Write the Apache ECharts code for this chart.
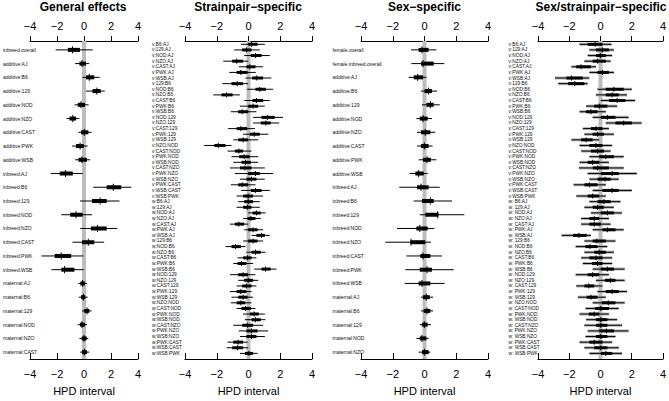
<!DOCTYPE html>
<html><head><meta charset="utf-8">
<script src="https://cdn.jsdelivr.net/npm/echarts@6/dist/echarts.min.js"></script>
<style>html,body{margin:0;padding:0;background:#fff}#c{width:669px;height:401px}</style>
</head><body><div id="c"></div>
<script>
const FONT = 'Liberation Sans, Arial, Helvetica, sans-serif';
const tickValues = [-4, -2, 0, 2, 4];
const panelTitles = ['General effects', 'Strainpair\u2212specific', 'Sex\u2212specific', 'Sex/strainpair\u2212specific'];
const axisTitle = 'HPD interval';

// ---- Panel 1: General effects
const genLabels = ['inbreed.overall','additive:AJ','additive:B6','additive:129','additive:NOD','additive:NZO','additive:CAST','additive:PWK','additive:WSB','inbreed:AJ','inbreed:B6','inbreed:129','inbreed:NOD','inbreed:NZO','inbreed:CAST','inbreed:PWK','inbreed:WSB','maternal:AJ','maternal:B6','maternal:129','maternal:NOD','maternal:NZO','maternal:CAST'];
const genLo95 = [-2.10,-0.66,-0.10,0.15,-0.70,-1.29,-0.41,-0.88,-0.66,-2.46,0.68,-0.29,-1.68,-0.27,-0.85,-3.15,-2.41,-0.41,-0.39,-0.15,-0.46,-0.34,-0.29];
const genLo50 = [-1.20,-0.34,0.15,0.63,-0.46,-1.07,-0.22,-0.59,-0.41,-1.80,1.68,0.59,-1.02,0.51,-0.15,-2.17,-1.68,-0.27,-0.22,0.02,-0.29,-0.17,-0.15];
const genMed  = [-0.85,-0.15,0.39,0.95,-0.22,-0.83,0.02,-0.29,-0.15,-1.37,2.17,1.20,-0.59,1.00,0.32,-1.68,-1.44,-0.10,-0.05,0.22,-0.15,0.00,0.02];
const genHi50 = [-0.30,0.15,0.76,1.24,0.07,-0.59,0.32,-0.02,0.22,-0.83,2.76,1.68,-0.10,1.68,0.76,-0.95,-0.71,0.07,0.10,0.39,0.07,0.20,0.22];
const genHi95 = [0.65,0.39,1.17,1.54,0.34,-0.34,0.56,0.27,0.46,-0.10,3.51,2.63,0.59,2.46,1.49,-0.05,-0.02,0.22,0.27,0.56,0.22,0.32,0.39];

// ---- Panel 2: Strainpair-specific
const pairLabels = ['v:B6:AJ','v:129:AJ','v:NOD:AJ','v:NZO:AJ','v:CAST:AJ','v:PWK:AJ','v:WSB:AJ','v:129:B6','v:NOD:B6','v:NZO:B6','v:CAST:B6','v:PWK:B6','v:WSB:B6','v:NOD:129','v:NZO:129','v:CAST:129','v:PWK:129','v:WSB:129','v:NZO:NOD','v:CAST:NOD','v:PWK:NOD','v:WSB:NOD','v:CAST:NZO','v:PWK:NZO','v:WSB:NZO','v:PWK:CAST','v:WSB:CAST','v:WSB:PWK',
 'w:B6:AJ','w:129:AJ','w:NOD:AJ','w:NZO:AJ','w:CAST:AJ','w:PWK:AJ','w:WSB:AJ','w:129:B6','w:NOD:B6','w:NZO:B6','w:CAST:B6','w:PWK:B6','w:WSB:B6','w:NOD:129','w:NZO:129','w:CAST:129','w:PWK:129','w:WSB:129','w:NZO:NOD','w:CAST:NOD','w:PWK:NOD','w:WSB:NOD','w:CAST:NZO','w:PWK:NZO','w:WSB:NZO','w:PWK:CAST','w:WSB:CAST','w:WSB:PWK'];
const pairLo95 = [-0.48,-0.90,-0.27,-1.59,-0.61,-1.21,-0.19,-1.65,-0.08,-2.22,-0.27,-0.54,-1.11,0.29,0.29,-1.28,-0.34,-0.96,-2.79,-1.32,-1.07,-0.96,-1.17,-0.86,-0.54,-1.11,-0.48,-0.75,
 -0.65,-0.75,-0.02,-0.34,-1.17,-0.27,0.19,-0.34,-1.45,-0.13,-0.69,-0.96,0.36,-1.17,-0.65,-0.75,-1.17,-1.07,-1.11,-0.75,-0.34,-0.23,-0.96,-0.61,-0.54,-1.32,-1.38,-0.54];
const pairLo50 = [-0.02,-0.40,0.15,-1.03,-0.13,-0.75,0.23,-1.07,0.44,-1.70,0.25,-0.02,-0.65,0.82,0.77,-0.75,0.08,-0.65,-2.16,-0.86,-0.59,-0.44,-0.54,-0.02,-0.13,-0.65,0.15,-0.34,
 -0.27,-0.34,0.25,-0.06,-0.86,-0.02,0.50,-0.02,-1.07,0.19,-0.34,-0.69,0.82,-0.65,-0.27,-0.40,-0.75,-0.65,-0.75,-0.44,0.08,0.19,-0.40,-0.13,-0.13,-0.96,-1.03,-0.23];
const pairMed  = [0.19,-0.13,0.44,-0.75,0.08,-0.48,0.52,-0.71,0.71,-1.38,0.50,0.29,-0.40,1.19,1.09,-0.48,0.36,-0.34,-1.90,-0.61,-0.27,-0.19,-0.23,0.44,0.19,-0.40,0.44,-0.02,
 -0.02,-0.06,0.50,0.15,-0.61,0.29,0.82,0.29,-0.82,0.44,-0.06,-0.44,1.07,-0.34,-0.02,-0.13,-0.48,-0.34,-0.48,-0.19,0.36,0.44,-0.06,0.19,0.19,-0.65,-0.69,0.02];
const pairHi50 = [0.57,0.19,0.82,-0.34,0.44,-0.06,0.92,-0.34,1.09,-1.00,0.92,0.61,-0.02,1.65,1.40,-0.08,0.71,-0.02,-1.45,-0.34,0.08,0.15,0.19,0.71,0.50,-0.02,0.82,0.29,
 0.29,0.19,0.77,0.44,-0.27,0.57,1.03,0.57,-0.48,0.77,0.19,-0.13,1.40,-0.02,0.29,0.19,-0.13,-0.06,-0.19,0.15,0.65,0.77,0.29,0.57,0.50,-0.34,-0.34,0.29];
const pairHi95 = [1.03,0.71,1.34,-0.02,0.92,0.46,1.44,-0.02,1.55,-0.54,1.34,1.03,0.50,2.18,1.93,0.40,1.24,0.61,-1.07,0.19,0.61,0.61,1.03,1.55,1.03,0.44,1.34,0.92,
 0.71,0.71,1.07,0.77,-0.02,0.92,1.34,0.92,-0.19,1.07,0.50,0.29,1.76,0.44,0.61,0.50,0.19,0.29,0.19,0.44,1.03,1.07,0.92,1.24,1.03,-0.06,-0.02,0.57];

// ---- Panel 3: Sex-specific
const sexLabels = ['female.overall','female.inbreed.overall','additive:AJ','additive:B6','additive:129','additive:NOD','additive:NZO','additive:CAST','additive:PWK','additive:WSB','inbreed:AJ','inbreed:B6','inbreed:129','inbreed:NOD','inbreed:NZO','inbreed:CAST','inbreed:PWK','inbreed:WSB','maternal:AJ','maternal:B6','maternal:129','maternal:NOD','maternal:NZO'];
const sexLo95 = [-0.85,-0.83,-1.00,-0.22,-0.16,-0.51,-0.47,-0.47,-0.37,-0.93,-1.59,-0.68,-0.30,-1.73,-2.47,-1.14,-1.21,-1.25,-0.22,-0.22,-0.30,-0.51,-0.37];
const sexLo50 = [-0.37,-0.22,-0.68,0.00,0.12,-0.30,-0.22,-0.22,-0.09,-0.58,-0.47,-0.16,0.05,-0.51,-0.89,-0.26,-0.30,-0.37,-0.09,-0.05,-0.16,-0.30,-0.16];
const sexMed  = [-0.16,-0.09,-0.43,0.26,0.37,-0.09,0.05,-0.01,0.16,-0.37,-0.22,0.37,0.83,-0.30,-0.85,-0.09,0.16,-0.16,0.12,0.16,-0.01,-0.16,-0.01];
const sexHi50 = [0.26,0.58,-0.09,0.47,0.58,0.20,0.37,0.26,0.41,-0.05,0.26,0.58,0.89,0.20,0.05,0.37,0.47,0.37,0.33,0.37,0.20,0.12,0.26];
const sexHi95 = [0.75,1.25,0.12,0.79,0.96,0.47,0.68,0.51,0.75,0.20,0.96,1.73,2.51,0.62,0.41,1.10,1.84,1.27,0.54,0.54,0.41,0.26,0.37];

// ---- Panel 4: Sex/strainpair-specific
const sexPairLabels = ['v:B6:AJ','v:129:AJ','v:NOD:AJ','v:NZO:AJ','v:CAST:AJ','v:PWK:AJ','v:WSB:AJ','v:129:B6','v:NOD:B6','v:NZO:B6','v:CAST:B6','v:PWK:B6','v:WSB:B6','v:NOD:129','v:NZO:129','v:CAST:129','v:PWK:129','v:WSB:129','v:NZO:NOD','v:CAST:NOD','v:PWK:NOD','v:WSB:NOD','v:CAST:NZO','v:PWK:NZO','v:WSB:NZO','v:PWK:CAST','v:WSB:CAST','v:WSB:PWK',
 'w: B6:AJ','w: 129:AJ','w: NOD:AJ','w: NZO:AJ','w: CAST:AJ','w: PWK:AJ','w: WSB:AJ','w: 129:B6','w: NOD:B6','w: NZO:B6','w: CAST:B6','w: PWK:B6','w: WSB:B6','w: NOD:129','w: NZO:129','w: CAST:129','w: PWK:129','w: WSB:129','w: NZO:NOD','w: CAST:NOD','w: PWK:NOD','w: WSB:NOD','w: CAST:NZO','w: PWK:NZO','w: WSB:NZO','w: PWK:CAST','w: WSB:CAST','w: WSB:PWK'];
const sexPairLo95 = [-1.34,-0.71,-0.82,-1.03,-1.86,-0.71,-2.91,-2.70,-0.19,-0.29,0.02,-0.92,-1.34,-0.50,0.34,-1.13,-1.03,-1.86,-1.34,-1.24,-0.71,-1.34,-1.38,-0.82,-0.71,-1.72,-0.50,-1.55,
 -0.71,-1.03,-0.61,-1.24,-1.24,-0.50,-2.49,-1.03,-1.59,-1.03,-1.24,-1.13,-0.50,-1.59,-0.29,-1.55,-0.19,-1.45,-0.50,-0.96,-1.34,-0.92,-1.03,-0.82,-0.96,-1.34,-1.03,-0.71];
const sexPairLo50 = [-0.82,-0.29,-0.29,-0.50,-1.55,-0.19,-2.18,-2.07,0.34,0.34,0.54,-0.40,-0.92,0.02,0.96,-0.61,-0.50,-1.24,-0.71,-0.61,-0.08,-0.82,-0.50,0.02,-0.19,-1.03,0.13,-0.82,
 -0.19,-0.50,0.02,-0.71,-0.71,0.13,-1.76,-0.50,-0.96,-0.40,-0.71,-0.54,0.02,-0.82,0.29,-1.03,0.34,-0.88,0.08,-0.34,-0.75,-0.29,-0.29,-0.08,-0.29,-0.71,-0.40,0.02];
const sexPairMed  = [-0.34,0.13,0.00,-0.19,-1.24,0.13,-1.86,-1.65,0.86,0.75,1.07,-0.08,-0.61,0.44,1.49,-0.29,-0.19,-0.92,-0.29,-0.19,0.34,-0.50,-0.19,0.75,0.29,-0.71,0.75,-0.50,
 0.23,-0.19,0.44,-0.40,-0.40,0.44,-1.38,-0.23,-0.67,-0.08,-0.29,-0.19,0.44,-0.50,0.65,-0.75,0.75,-0.61,0.50,0.02,-0.40,0.02,0.02,0.38,0.02,-0.40,0.02,0.34];
const sexPairHi50 = [0.13,0.54,0.34,0.34,-0.61,0.54,-1.13,-1.03,1.49,1.17,1.59,0.44,-0.19,0.96,2.01,0.13,0.23,-0.50,0.13,0.23,0.86,-0.08,0.54,1.17,0.65,-0.19,1.17,-0.08,
 0.65,0.23,0.86,-0.08,0.02,0.96,-0.88,0.34,-0.19,0.34,0.13,0.13,0.86,-0.08,0.96,-0.40,1.17,-0.19,0.96,0.54,-0.08,0.44,0.44,0.86,0.44,0.13,0.44,0.75];
const sexPairHi95 = [0.71,0.86,0.75,0.65,-0.29,0.86,-0.71,-0.82,2.01,1.70,2.22,1.07,0.34,1.80,2.64,0.54,0.86,-0.08,0.75,0.65,1.49,0.54,1.49,2.32,1.17,0.34,2.01,0.34,
 1.28,0.86,1.38,0.54,0.65,1.49,-0.61,0.96,0.44,0.86,0.75,0.75,1.55,0.54,1.55,0.13,1.70,0.34,1.55,1.17,0.54,1.07,1.38,1.80,0.96,0.75,1.17,1.38];

// ---------- build
function rows(lo95, lo50, med, hi50, hi95) {
  return med.map((m, i) => [lo95[i], lo50[i], m, hi50[i], hi95[i], i]);
}
function intervalRender(barH, tickH, grayBand) {
  return function (params, api) {
    const i = api.value(5);
    const a = api.coord([api.value(0), i]);
    const b = api.coord([api.value(1), i]);
    const m = api.coord([api.value(2), i]);
    const c = api.coord([api.value(3), i]);
    const d = api.coord([api.value(4), i]);
    const kids = [];
    if (grayBand) {
      kids.push({ type: 'rect', shape: { x: a[0], y: a[1] - grayBand / 2, width: d[0] - a[0], height: grayBand }, style: { fill: '#b4b4b4' } });
    }
    kids.push(
      { type: 'line', shape: { x1: a[0], y1: a[1], x2: d[0], y2: d[1] }, style: { stroke: '#000', lineWidth: 1 } },
      { type: 'rect', shape: { x: b[0], y: b[1] - barH / 2, width: c[0] - b[0], height: barH }, style: { fill: '#000' } },
      { type: 'line', shape: { x1: m[0], y1: m[1] - tickH / 2, x2: m[0], y2: m[1] + tickH / 2 }, style: { stroke: '#000', lineWidth: 1 } }
    );
    return { type: 'group', children: kids };
  };
}
function zeroRender(offTop, offBot) {
  return function (params, api) {
    const cs = params.coordSys;
    const x = api.coord([api.value(0), 0])[0];
    return { type: 'line', shape: { x1: x, y1: cs.y - offTop, x2: x, y2: cs.y + cs.height + offBot },
      style: { stroke: '#bdbdbd', lineWidth: 4 } };
  };
}
const minus = v => String(v).replace('-', '\u2212');

const panels = [
  { labels: genLabels, data: rows(genLo95, genLo50, genMed, genHi50, genHi95), left: 28, right: 669 - 138, top: 43, bottom: 38, offTop: 2, offBot: 0, lm: 27, fs: 5, barH: 4, tickH: 7, gray: 0, cx: 83 },
  { labels: pairLabels, data: rows(pairLo95, pairLo50, pairMed, pairHi50, pairHi95), left: 185, right: 669 - 312, top: 41.5, bottom: 40.8, offTop: 0.5, offBot: 2.8, lm: 33, fs: 4.8, barH: 3, tickH: 5, gray: 0, cx: 248 },
  { labels: sexLabels, data: rows(sexLo95, sexLo50, sexMed, sexHi50, sexHi95), left: 361, right: 669 - 488, top: 43, bottom: 38, offTop: 2, offBot: 0, lm: 28.5, fs: 5, barH: 4, tickH: 7, gray: 0, cx: 424.5 },
  { labels: sexPairLabels, data: rows(sexPairLo95, sexPairLo50, sexPairMed, sexPairHi50, sexPairHi95), left: 538, right: 4, top: 41.5, bottom: 40.8, offTop: 0.5, offBot: 2.8, lm: 29.5, fs: 4.8, barH: 3, tickH: 5, gray: 3, cx: 601 }
];

const option = { animation: false, backgroundColor: '#fff', title: [], grid: [], xAxis: [], yAxis: [], series: [] };
panels.forEach((p, k) => {
  option.title.push({ text: panelTitles[k], left: p.cx, top: 1, padding: 0, textAlign: 'center',
    textStyle: { fontFamily: FONT, fontSize: 12, fontWeight: 'bold', color: '#000' } });
  option.grid.push({ left: p.left, right: p.right, top: p.top, bottom: p.bottom, containLabel: false });
  const common = { gridIndex: k, type: 'value', min: -4, max: 4, interval: 2, splitLine: { show: false },
    axisLine: { show: true, onZero: false, lineStyle: { color: '#000', width: 1 } } };
  option.xAxis.push(Object.assign({}, common, { position: 'bottom', offset: p.offBot,
    axisTick: { show: true, inside: true, length: 6, lineStyle: { color: '#000' } },
    axisLabel: { margin: 9, fontSize: 11, color: '#000', fontFamily: FONT, formatter: minus },
    name: axisTitle, nameLocation: 'middle', nameGap: 26,
    nameTextStyle: { fontSize: 11, color: '#000', fontFamily: FONT } }));
  option.xAxis.push(Object.assign({}, common, { position: 'top', offset: p.offTop,
    axisTick: { show: true, inside: false, length: 5, lineStyle: { color: '#000' } },
    axisLabel: { margin: 10, fontSize: 11, color: '#000', fontFamily: FONT, formatter: minus } }));
  option.yAxis.push({ gridIndex: k, type: 'category', inverse: true, data: p.labels,
    axisLine: { show: false }, axisTick: { show: false }, splitLine: { show: false },
    axisLabel: { interval: 0, align: 'left', margin: p.lm, fontSize: p.fs, color: '#111', fontFamily: FONT } });
  option.series.push({ type: 'custom', xAxisIndex: 2 * k, yAxisIndex: k, z: 1, silent: true,
    renderItem: zeroRender(p.offTop, p.offBot), data: [[0, 0]], encode: { x: 0, y: 1 } });
  option.series.push({ type: 'custom', xAxisIndex: 2 * k, yAxisIndex: k, z: 2, silent: true,
    renderItem: intervalRender(p.barH, p.tickH, p.gray), data: p.data, encode: { x: [0, 1, 2, 3, 4], y: 5 } });
});
const chart = echarts.init(document.getElementById('c'), null, { renderer: 'svg' });
chart.setOption(option);
</script></body></html>
